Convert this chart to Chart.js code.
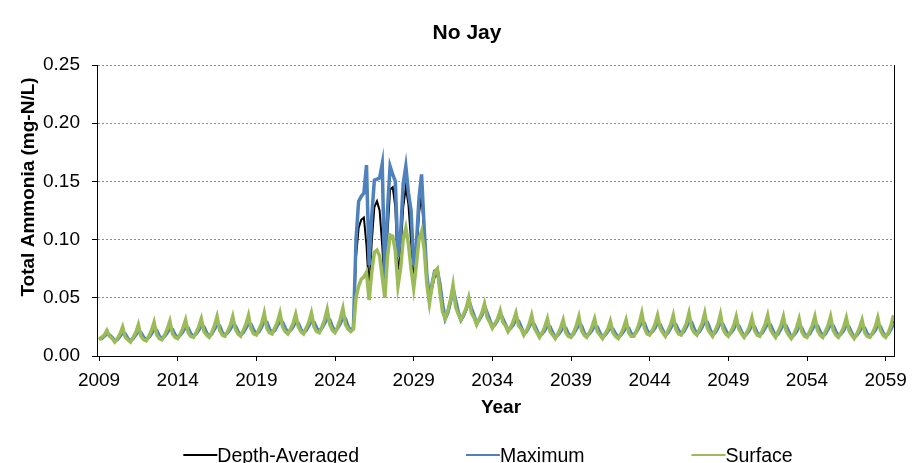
<!DOCTYPE html>
<html>
<head>
<meta charset="utf-8">
<script src="https://cdn.jsdelivr.net/npm/chart.js@4.4.0/dist/chart.umd.min.js"></script>
<style>
  html, body { margin: 0; padding: 0; background: #fff; overflow: hidden; }
  #wrap { width: 915px; height: 463px; position: relative; }
</style>
</head>
<body>
<div id="wrap"><canvas id="chart"></canvas></div>
<script>
// time axis: 6 samples per year starting Jan 2009
const startYear = 2009;
const samplesPerYear = 6;
const xMin = 2008.87;
const xMax = 2059.53;
const yearTicks = [2009, 2014, 2019, 2024, 2029, 2034, 2039, 2044, 2049, 2054, 2059];
const yTicks = [0, 0.05, 0.10, 0.15, 0.20, 0.25];

const chartTitle = 'No Jay';
const xTitle = 'Year';
const yTitle = 'Total Ammonia (mg-N/L)';

// one row per year
const depthAveraged = [
  .015, .016, .018, .020, .018, .015,
  .013, .015, .018, .021, .018, .014,
  .013, .015, .019, .023, .019, .015,
  .014, .016, .020, .025, .020, .016,
  .015, .017, .021, .026, .021, .017,
  .016, .018, .022, .027, .022, .018,
  .017, .019, .023, .028, .023, .019,
  .017, .020, .024, .029, .024, .019,
  .018, .021, .025, .029, .025, .020,
  .018, .021, .025, .030, .025, .020,
  .019, .022, .027, .032, .027, .021,
  .020, .023, .027, .032, .027, .022,
  .020, .023, .027, .031, .027, .022,
  .020, .023, .027, .032, .027, .022,
  .021, .024, .029, .034, .029, .024,
  .021, .025, .029, .035, .029, .024,
  .021, .023, .085, .110, .117, .119,
  .095, .056, .098, .128, .133, .125,
  .095, .058, .105, .143, .145, .128,
  .068, .090, .128, .145, .130, .098,
  .063, .082, .122, .138, .105, .068,
  .047, .058, .068, .070, .058, .040,
  .031, .037, .045, .056, .044, .036,
  .030, .034, .039, .046, .038, .033,
  .027, .031, .035, .041, .034, .029,
  .024, .027, .031, .036, .030, .026,
  .022, .025, .028, .033, .028, .024,
  .019, .022, .026, .030, .026, .021,
  .017, .020, .023, .028, .023, .019,
  .016, .019, .022, .027, .022, .018,
  .017, .020, .024, .029, .024, .019,
  .017, .020, .023, .028, .023, .019,
  .016, .018, .022, .026, .022, .018,
  .016, .019, .022, .027, .022, .018,
  .018, .021, .026, .031, .026, .021,
  .019, .022, .026, .030, .026, .021,
  .018, .021, .025, .030, .025, .020,
  .019, .022, .027, .032, .027, .021,
  .019, .022, .027, .032, .027, .021,
  .018, .021, .026, .031, .026, .020,
  .018, .021, .025, .029, .025, .020,
  .017, .020, .024, .028, .024, .019,
  .018, .021, .025, .030, .025, .020,
  .017, .020, .024, .029, .024, .019,
  .016, .019, .023, .027, .023, .018,
  .017, .020, .024, .029, .024, .019,
  .017, .020, .024, .029, .024, .019,
  .017, .020, .024, .028, .024, .019,
  .016, .019, .022, .027, .022, .018,
  .017, .020, .024, .028, .024, .019,
  .017, .020, .025, .030
];

const maximum = [
  .015, .015, .017, .019, .018, .016,
  .013, .014, .017, .020, .019, .015,
  .013, .015, .018, .021, .020, .016,
  .014, .016, .019, .023, .022, .017,
  .015, .017, .020, .024, .023, .018,
  .016, .018, .021, .025, .024, .019,
  .017, .019, .022, .026, .025, .020,
  .017, .019, .023, .027, .026, .020,
  .018, .020, .023, .027, .026, .021,
  .018, .020, .024, .028, .027, .022,
  .019, .021, .025, .030, .029, .023,
  .020, .022, .026, .030, .029, .024,
  .020, .022, .025, .030, .028, .023,
  .020, .022, .026, .030, .029, .024,
  .021, .024, .028, .032, .031, .025,
  .021, .024, .028, .033, .032, .025,
  .022, .024, .100, .133, .137, .140,
  .164, .078, .120, .151, .152, .153,
  .165, .063, .125, .163, .156, .150,
  .085, .105, .148, .163, .140, .125,
  .078, .095, .135, .156, .110, .070,
  .050, .062, .073, .074, .062, .045,
  .032, .037, .046, .058, .048, .038,
  .031, .035, .040, .048, .041, .035,
  .028, .031, .035, .043, .037, .031,
  .025, .027, .031, .037, .032, .027,
  .022, .024, .027, .032, .030, .025,
  .019, .021, .025, .029, .027, .022,
  .017, .019, .022, .026, .025, .020,
  .016, .018, .021, .025, .024, .019,
  .017, .019, .023, .027, .026, .020,
  .017, .019, .022, .026, .025, .020,
  .016, .018, .021, .024, .023, .019,
  .016, .018, .021, .025, .024, .019,
  .018, .021, .025, .029, .028, .022,
  .019, .021, .024, .029, .027, .022,
  .018, .020, .024, .028, .027, .022,
  .019, .021, .025, .030, .029, .023,
  .019, .021, .025, .030, .029, .023,
  .018, .020, .024, .029, .027, .022,
  .018, .020, .023, .028, .026, .021,
  .017, .019, .022, .027, .025, .020,
  .018, .020, .024, .028, .027, .022,
  .017, .019, .023, .027, .026, .021,
  .016, .018, .021, .026, .024, .019,
  .017, .019, .023, .027, .026, .021,
  .017, .019, .023, .027, .026, .021,
  .017, .019, .022, .027, .025, .020,
  .016, .018, .021, .025, .024, .019,
  .017, .019, .022, .027, .025, .020,
  .017, .019, .023, .028
];

const surface = [
  .014, .016, .018, .022, .017, .015,
  .012, .015, .019, .025, .016, .014,
  .012, .016, .020, .027, .017, .014,
  .013, .017, .022, .029, .018, .015,
  .014, .018, .023, .030, .019, .016,
  .015, .019, .024, .031, .020, .017,
  .016, .020, .025, .032, .021, .018,
  .016, .020, .026, .034, .022, .018,
  .017, .021, .026, .034, .023, .019,
  .017, .022, .027, .035, .023, .019,
  .018, .023, .028, .037, .024, .020,
  .019, .024, .029, .037, .025, .021,
  .019, .023, .028, .036, .025, .021,
  .019, .024, .029, .037, .025, .021,
  .020, .025, .031, .040, .027, .022,
  .020, .025, .032, .041, .027, .023,
  .021, .023, .050, .060, .066, .068,
  .072, .048, .072, .089, .091, .086,
  .068, .050, .085, .104, .103, .090,
  .060, .075, .100, .110, .096, .075,
  .058, .078, .100, .107, .092, .062,
  .045, .060, .072, .075, .055, .038,
  .032, .039, .048, .061, .042, .036,
  .031, .036, .041, .050, .037, .033,
  .027, .032, .037, .045, .033, .029,
  .024, .028, .032, .039, .029, .026,
  .021, .025, .030, .037, .026, .023,
  .018, .022, .027, .035, .024, .020,
  .016, .020, .025, .032, .021, .018,
  .015, .019, .024, .031, .020, .017,
  .016, .020, .026, .034, .022, .018,
  .016, .020, .025, .032, .021, .018,
  .015, .019, .023, .030, .020, .017,
  .015, .019, .024, .031, .020, .017,
  .017, .022, .028, .037, .024, .019,
  .018, .022, .027, .035, .024, .020,
  .017, .022, .027, .035, .023, .019,
  .018, .023, .028, .037, .024, .020,
  .018, .023, .028, .037, .024, .020,
  .017, .022, .027, .036, .023, .019,
  .017, .021, .026, .034, .023, .019,
  .016, .020, .025, .033, .022, .018,
  .017, .022, .027, .035, .023, .019,
  .016, .021, .026, .034, .022, .018,
  .015, .019, .024, .032, .021, .017,
  .016, .021, .026, .034, .022, .018,
  .016, .021, .026, .034, .022, .018,
  .016, .020, .025, .033, .022, .018,
  .015, .019, .024, .031, .020, .017,
  .016, .020, .025, .033, .022, .018,
  .016, .020, .026, .035
];

const times = surface.map((_, i) => startYear + i / samplesPerYear);

const FONT = '"Liberation Sans", Arial, Helvetica, sans-serif';

// title, axis titles, legend and the right frame line are drawn here
const extrasPlugin = {
  id: 'extras',
  afterDraw(chart) {
    const { ctx, chartArea } = chart;
    ctx.save();

    ctx.strokeStyle = '#000';
    ctx.lineWidth = 1;
    ctx.beginPath();
    ctx.moveTo(Math.round(chartArea.right) + 0.5, chartArea.top);
    ctx.lineTo(Math.round(chartArea.right) + 0.5, chartArea.bottom);
    ctx.stroke();

    ctx.fillStyle = '#000';
    ctx.textAlign = 'center';
    ctx.textBaseline = 'alphabetic';
    ctx.font = 'bold 21px ' + FONT;
    ctx.fillText(chartTitle, 467, 39);

    ctx.font = 'bold 19px ' + FONT;
    ctx.textBaseline = 'middle';
    ctx.fillText(xTitle, 501, 408);

    ctx.save();
    ctx.translate(29, 187);
    ctx.rotate(-Math.PI / 2);
    ctx.fillText(yTitle, 0, 0);
    ctx.restore();

    // legend
    ctx.font = '19.5px ' + FONT;
    ctx.textAlign = 'left';
    ctx.textBaseline = 'alphabetic';
    const lineLen = 34, gap = 107;
    const items = chart.data.datasets.map(ds => ({
      label: ds.label, color: ds.borderColor, w: ctx.measureText(ds.label).width
    }));
    const total = items.reduce((s, it) => s + lineLen + it.w, 0) + gap * (items.length - 1);
    let x = 488 - total / 2;
    items.forEach(it => {
      ctx.strokeStyle = it.color;
      ctx.lineWidth = 2;
      ctx.beginPath();
      ctx.moveTo(x, 455);
      ctx.lineTo(x + lineLen, 455);
      ctx.stroke();
      ctx.fillStyle = '#000';
      ctx.fillText(it.label, x + lineLen, 462);
      x += lineLen + it.w + gap;
    });

    ctx.restore();
  }
};

new Chart(document.getElementById('chart'), {
  type: 'line',
  data: {
    labels: times,
    datasets: [
      { label: 'Depth-Averaged', data: depthAveraged, borderColor: '#000000', borderWidth: 2, order: 2 },
      { label: 'Maximum', data: maximum, borderColor: '#4F81BD', borderWidth: 3.5, order: 1 },
      { label: 'Surface', data: surface, borderColor: '#9BBB59', borderWidth: 3.5, order: 0 }
    ]
  },
  options: {
    responsive: true,
    maintainAspectRatio: false,
    animation: false,
    layout: { padding: { top: 65, left: 18, right: 19, bottom: 43 } },
    elements: { point: { radius: 0 }, line: { tension: 0, fill: false } },
    plugins: {
      legend: { display: false },
      title: { display: false },
      tooltip: { enabled: false }
    },
    scales: {
      x: {
        type: 'linear',
        min: xMin,
        max: xMax,
        afterBuildTicks: scale => { scale.ticks = yearTicks.map(v => ({ value: v })); },
        afterFit: scale => { scale.height = 64; },
        ticks: {
          autoSkip: false,
          maxRotation: 0,
          padding: 8,
          color: '#000',
          font: { family: FONT, size: 19 },
          callback: v => String(v)
        },
        grid: { drawOnChartArea: false, tickLength: 5, tickColor: '#000' },
        border: { color: '#000', width: 1 }
      },
      y: {
        min: 0,
        max: 0.25,
        afterBuildTicks: scale => { scale.ticks = yTicks.map(v => ({ value: v })); },
        afterFit: scale => { scale.width = 79; },
        ticks: {
          padding: 12,
          color: '#000',
          font: { family: FONT, size: 19 },
          callback: v => v.toFixed(2)
        },
        grid: { color: '#8c8c8c', lineWidth: 1, tickLength: 5, tickColor: '#000' },
        border: { color: '#000', width: 1, dash: [2, 2] }
      }
    }
  },
  plugins: [extrasPlugin]
});
</script>
</body>
</html>
